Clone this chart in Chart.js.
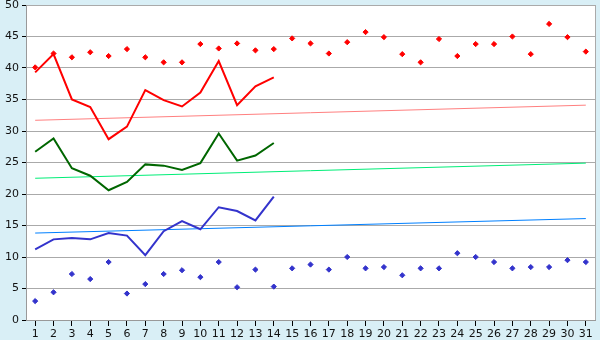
<!DOCTYPE html>
<html>
<head>
<meta charset="utf-8">
<script src="https://cdn.jsdelivr.net/npm/chart.js@4"></script>
<style>
  html, body { margin: 0; padding: 0; background: #d9eff6; }
  #wrap { width: 600px; height: 340px; }
</style>
</head>
<body>
<div id="wrap"><canvas id="dayCanvas" width="600" height="340"></canvas></div>
<script>
const days = ['1','2','3','4','5','6','7','8','9','10','11','12','13','14','15','16',
              '17','18','19','20','21','22','23','24','25','26','27','28','29','30','31'];

// red points (all month) and red line (first 14 days)
const redPoints = [40.1, 42.3, 41.7, 42.5, 41.9, 43.0, 41.7, 40.9, 40.9, 43.8, 43.1, 43.9, 42.8, 43.0,
                   44.7, 43.9, 42.3, 44.1, 45.7, 44.9, 42.2, 40.9, 44.6, 41.9, 43.8, 43.8, 45.0, 42.2,
                   47.0, 44.9, 42.6];
const redLine = [39.3, 42.2, 35.0, 33.8, 28.7, 30.7, 36.5, 34.9, 33.9, 36.1, 41.1, 34.1, 37.1, 38.5];
const greenLine = [26.7, 28.8, 24.1, 22.9, 20.6, 21.9, 24.7, 24.5, 23.8, 24.9, 29.6, 25.3, 26.1, 28.1];
const blueLine = [11.2, 12.8, 13.0, 12.8, 13.8, 13.4, 10.3, 14.1, 15.7, 14.4, 17.9, 17.3, 15.8, 19.6];
const bluePoints = [3.0, 4.4, 7.3, 6.5, 9.2, 4.2, 5.7, 7.3, 7.9, 6.8, 9.2, 5.2, 8.0, 5.3,
                    8.2, 8.8, 8.0, 10.0, 8.2, 8.4, 7.1, 8.2, 8.2, 10.6, 10.0, 9.2, 8.2, 8.4,
                    8.4, 9.5, 9.2];

// trend lines: value at day 1 and at day 31
const redTrend = [31.7, 34.1];
const greenTrend = [22.5, 24.9];
const blueTrend = [13.8, 16.1];

const yTicks = [0, 5, 10, 15, 20, 25, 30, 35, 40, 45, 50];

function trend(ends) {
    return [{ x: days[0], y: ends[0] }, { x: days[days.length - 1], y: ends[1] }];
}

const plotFrame = {
    id: 'plotFrame',
    beforeDraw(chart) {
        const a = chart.chartArea, c = chart.ctx;
        c.save();
        c.fillStyle = '#ffffff';
        c.fillRect(a.left, a.top, a.right - a.left, a.bottom - a.top);
        c.restore();
    },
    afterDraw(chart) {
        const a = chart.chartArea, c = chart.ctx;
        c.save();
        c.strokeStyle = '#aaaaaa';
        c.lineWidth = 1;
        c.beginPath();
        c.moveTo(Math.round(a.right) + 0.5, Math.round(a.top));
        c.lineTo(Math.round(a.right) + 0.5, Math.round(a.bottom));
        c.stroke();
        c.restore();
    }
};

const ctxDays = document.getElementById('dayCanvas').getContext('2d');
const dayChart = new Chart(ctxDays, {
    type: 'line',
    data: {
        labels: days,
        datasets: [
            {
                data: redPoints,
                showLine: false,
                pointStyle: 'rectRot',
                pointRadius: 2.6,
                backgroundColor: '#ff0000',
                borderColor: '#ff0000',
                borderWidth: 1
            },
            {
                data: bluePoints,
                showLine: false,
                pointStyle: 'rectRot',
                pointRadius: 2.6,
                backgroundColor: '#3333cc',
                borderColor: '#3333cc',
                borderWidth: 1
            },
            {
                data: redLine,
                borderColor: '#ff0000',
                borderWidth: 2,
                pointRadius: 0
            },
            {
                data: greenLine,
                borderColor: '#006600',
                borderWidth: 2,
                pointRadius: 0
            },
            {
                data: blueLine,
                borderColor: '#3333cc',
                borderWidth: 2,
                pointRadius: 0
            },
            {
                data: trend(redTrend),
                borderColor: '#ff8080',
                borderWidth: 1,
                pointRadius: 0
            },
            {
                data: trend(greenTrend),
                borderColor: '#00ee77',
                borderWidth: 1,
                pointRadius: 0
            },
            {
                data: trend(blueTrend),
                borderColor: '#0080ff',
                borderWidth: 1,
                pointRadius: 0
            }
        ]
    },
    options: {
        responsive: false,
        animation: false,
        events: [],
        layout: { padding: { top: 5, right: 4, left: 0, bottom: 0 } },
        plugins: {
            legend: { display: false },
            tooltip: { enabled: false }
        },
        elements: { line: { tension: 0 } },
        scales: {
            x: {
                type: 'category',
                offset: true,
                grid: {
                    offset: false,
                    drawOnChartArea: false,
                    color: '#000000',
                    tickColor: '#000000',
                    tickLength: 6
                },
                border: { color: '#999999' },
                ticks: {
                    color: '#111111',
                    font: { family: 'DejaVu Sans', size: 11 },
                    padding: 2,
                    maxRotation: 0,
                    autoSkip: false
                },
                afterFit(scale) {
                    scale.height = 20;
                    scale.paddingLeft = 0;
                    scale.paddingRight = 0;
                }
            },
            y: {
                min: 0,
                max: 50,
                afterBuildTicks(scale) { scale.ticks = yTicks.map(v => ({ value: v })); },
                grid: {
                    color: '#aaaaaa',
                    tickColor: '#000000',
                    tickLength: 4
                },
                border: { color: '#999999' },
                ticks: {
                    color: '#111111',
                    font: { family: 'DejaVu Sans', size: 11 },
                    padding: 3
                },
                afterFit(scale) {
                    scale.width = 26;
                    scale.paddingTop = 0;
                    scale.paddingBottom = 0;
                }
            }
        }
    },
    plugins: [plotFrame]
});
</script>
</body>
</html>
